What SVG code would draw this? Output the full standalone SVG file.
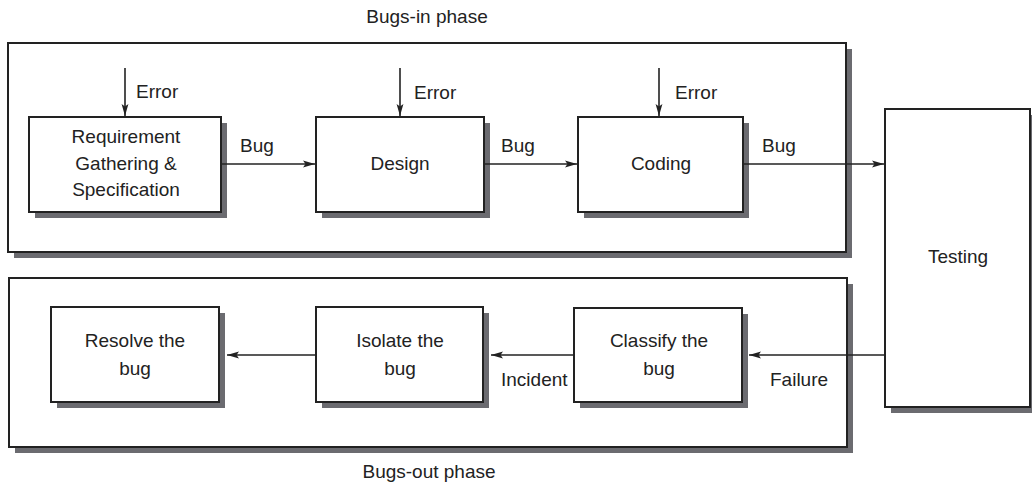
<svg xmlns="http://www.w3.org/2000/svg" width="1032" height="486" viewBox="0 0 1032 486">
<defs>
<style>
.sh{fill:#6b6b70}
.bx{fill:#fff;stroke:#222;stroke-width:2}
.t{font-family:"Liberation Sans",Arial,sans-serif;font-size:19px;fill:#222}
.m{text-anchor:middle}
.c{stroke:#222;stroke-width:1.6;fill:none;marker-end:url(#ah)}
</style>
<marker id="ah" markerUnits="userSpaceOnUse" markerWidth="12" markerHeight="8" refX="12" refY="4" orient="auto">
<path d="M0,0.6 L12,4 L0,7.4 L2.5,4 Z" fill="#222"/>
</marker>
</defs>
<rect width="1032" height="486" fill="#fff"/>
<g id="bugs-in-phase">
<rect class="sh" x="14" y="49" width="838" height="209"/>
<rect class="bx" x="8" y="43" width="838" height="209"/>
<text class="t m" x="427" y="23">Bugs-in phase</text>
</g>
<g id="bugs-out-phase">
<rect class="sh" x="15" y="284" width="838" height="169"/>
<rect class="bx" x="9" y="278" width="838" height="169"/>
<text class="t m" x="429" y="478">Bugs-out phase</text>
</g>
<g id="requirement">
<rect class="sh" x="35" y="123" width="192" height="95"/>
<rect class="bx" x="29" y="117" width="192" height="95"/>
<text class="t m" x="126" y="143">Requirement</text>
<text class="t m" x="126" y="170">Gathering &amp;</text>
<text class="t m" x="126" y="196">Specification</text>
</g>
<g id="design">
<rect class="sh" x="322" y="123" width="168" height="95"/>
<rect class="bx" x="316" y="117" width="168" height="95"/>
<text class="t m" x="400" y="170">Design</text>
</g>
<g id="coding">
<rect class="sh" x="584" y="123" width="165" height="95"/>
<rect class="bx" x="578" y="117" width="165" height="95"/>
<text class="t m" x="661" y="170">Coding</text>
</g>
<g id="testing">
<rect class="sh" x="891" y="115" width="145" height="298"/>
<rect class="bx" x="885" y="109" width="145" height="298"/>
<text class="t m" x="958" y="263">Testing</text>
</g>
<g id="classify">
<rect class="sh" x="580" y="314" width="168" height="94"/>
<rect class="bx" x="574" y="308" width="168" height="94"/>
<text class="t m" x="659" y="347">Classify the</text>
<text class="t m" x="659" y="375">bug</text>
</g>
<g id="isolate">
<rect class="sh" x="322" y="313" width="167" height="95"/>
<rect class="bx" x="316" y="307" width="167" height="95"/>
<text class="t m" x="400" y="347">Isolate the</text>
<text class="t m" x="400" y="375">bug</text>
</g>
<g id="resolve">
<rect class="sh" x="57" y="313" width="168" height="95"/>
<rect class="bx" x="51" y="307" width="168" height="95"/>
<text class="t m" x="135" y="347">Resolve the</text>
<text class="t m" x="135" y="375">bug</text>
</g>
<g id="connectors">
<line class="c" x1="125" y1="68" x2="125" y2="116"/>
<line class="c" x1="400" y1="68" x2="400" y2="116"/>
<line class="c" x1="659" y1="68" x2="659" y2="116"/>
<line class="c" x1="222" y1="164" x2="315" y2="164"/>
<line class="c" x1="485" y1="164" x2="577" y2="164"/>
<line class="c" x1="744" y1="164" x2="884" y2="164"/>
<line class="c" x1="884" y1="355" x2="749" y2="355"/>
<line class="c" x1="573" y1="355" x2="491" y2="355"/>
<line class="c" x1="315" y1="355" x2="227" y2="355"/>
<text class="t" x="136" y="98">Error</text>
<text class="t" x="414" y="99">Error</text>
<text class="t" x="675" y="99">Error</text>
<text class="t" x="240" y="152">Bug</text>
<text class="t" x="501" y="152">Bug</text>
<text class="t" x="762" y="152">Bug</text>
<text class="t" x="501" y="386">Incident</text>
<text class="t" x="770" y="386">Failure</text>
</g>
</svg>
